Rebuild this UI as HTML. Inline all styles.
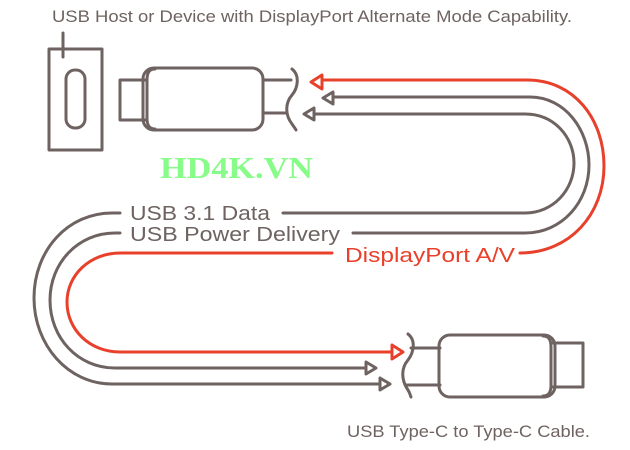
<!DOCTYPE html>
<html><head><meta charset="utf-8"><style>
html,body{margin:0;padding:0;background:#fff;}
svg{display:block;}
text{font-family:"Liberation Sans",sans-serif;}
</style></head><body>
<svg width="630" height="450" viewBox="0 0 630 450" xmlns="http://www.w3.org/2000/svg">
<g fill="none" stroke-width="3" stroke-linecap="round" stroke-linejoin="round">
<path d="M318 80 H527 C575 80 604 120 604 166 C604 214 570 253 520 253" stroke="#e8402a"/>
<path d="M330 97 H530 C565 97 589 130 589 165 C589 202 562 233 525 233 H353" stroke="#6e6360"/>
<path d="M311 114 H525 C555 114 574 138 574 163 C574 190 553 213 525 213 H283" stroke="#6e6360"/>
<path d="M120 213 H112 C68 213 34 250 34 298 C34 345 68 384 112 384 H383" stroke="#6e6360"/>
<path d="M120 233 H115 C78 233 50 263 50 300 C50 338 78 368 115 368 H368" stroke="#6e6360"/>
<path d="M332 253 H120 C90 253 67 275 67 302 C67 330 90 352 120 352 H395" stroke="#e8402a"/>
<polygon points="311,82 322,75 322,89" stroke="#e8402a" fill="#fff"/>
<polygon points="323,98 333,92 333,104" stroke="#6e6360" fill="#fff"/>
<polygon points="304,114 314,108 314,120" stroke="#6e6360" fill="#fff"/>
<polygon points="403,352 392,345 392,359" stroke="#e8402a" fill="#fff"/>
<polygon points="376,368 366,362 366,374" stroke="#6e6360" fill="#fff"/>
<polygon points="390,384 380,378 380,390" stroke="#6e6360" fill="#fff"/>
<g stroke="#6e6360">
<rect x="49" y="49" width="53" height="101"/>
<line x1="63" y1="33" x2="63" y2="57"/>
<rect x="66" y="70" width="19" height="58" rx="9"/>
<path d="M147 80 H120 V120 H147"/>
<rect x="143" y="68" width="120" height="62" rx="11"/>
<path d="M155 69 C149 69 147 73 147 80 V118 C147 125 149 129 155 129"/>
<line x1="263" y1="80" x2="291" y2="80"/><line x1="263" y1="113" x2="287" y2="113"/>
<path d="M292 69 C300 75 298 88 292 95 C285 103 285 115 292 124 C294 127 295 128 296 130"/>
<path d="M408 334 C416 340 414 352 408 360 C401 368 401 380 408 390 C410 393 410 395 411 397"/>
<line x1="411" y1="348" x2="440" y2="348"/><line x1="407" y1="385" x2="440" y2="385"/>
<rect x="439" y="335" width="116" height="62" rx="11"/>
<path d="M543 336 C549 336 551 340 551 347 V385 C551 392 549 396 543 396"/>
<path d="M551 343 H583 V387 H551"/>
</g>
</g>
<text x="52" y="22" font-size="17" fill="#6e6360" textLength="520" lengthAdjust="spacingAndGlyphs">USB Host or Device with DisplayPort Alternate Mode Capability.</text>
<text x="130" y="220" font-size="20" fill="#6e6360" textLength="140" lengthAdjust="spacingAndGlyphs">USB 3.1 Data</text>
<text x="130" y="241" font-size="20" fill="#6e6360" textLength="210" lengthAdjust="spacingAndGlyphs">USB Power Delivery</text>
<text x="345" y="262" font-size="20" fill="#e8402a" textLength="170" lengthAdjust="spacingAndGlyphs">DisplayPort A/V</text>
<text x="347" y="437" font-size="17" fill="#6e6360" textLength="243" lengthAdjust="spacingAndGlyphs">USB Type-C to Type-C Cable.</text>
<text x="160" y="178" font-size="31" font-weight="bold" fill="#88fc88" style="font-family:'Liberation Serif',serif" textLength="153" lengthAdjust="spacingAndGlyphs">HD4K.VN</text>
</svg>
</body></html>
